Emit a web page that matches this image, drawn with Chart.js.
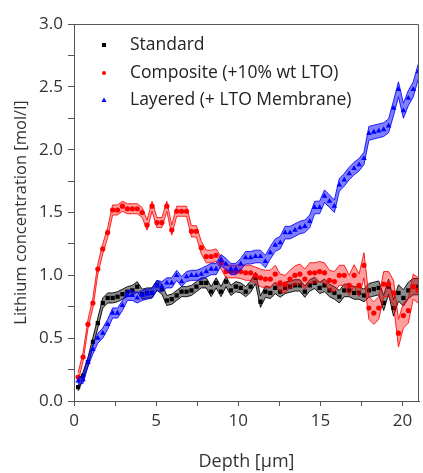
<!DOCTYPE html>
<html>
<head>
<meta charset="utf-8">
<script src="https://cdn.jsdelivr.net/npm/chart.js@4"></script>
<style>
  html, body { margin: 0; padding: 0; background: #fff; }
  #wrap { width: 423px; height: 473px; }
</style>
</head>
<body>
<div id="wrap"><canvas id="chart" width="423" height="473"></canvas></div>
<script>
const depth = [
  0.25, 0.55, 0.85, 1.15, 1.45, 1.75, 2.05, 2.35, 2.65, 2.95,
  3.25, 3.55, 3.85, 4.15, 4.45, 4.75, 5.05, 5.35, 5.65, 5.95,
  6.25, 6.55, 6.85, 7.15, 7.45, 7.75, 8.05, 8.35, 8.65, 8.95,
  9.25, 9.55, 9.85, 10.15, 10.45, 10.75, 11.05, 11.35, 11.65, 11.95,
  12.25, 12.55, 12.85, 13.15, 13.45, 13.75, 14.05, 14.35, 14.65, 14.95,
  15.25, 15.55, 15.85, 16.15, 16.45, 16.75, 17.05, 17.35, 17.65, 17.95,
  18.25, 18.55, 18.85, 19.15, 19.45, 19.75, 20.05, 20.35, 20.65, 20.95
]
const standard = [
  0.11, 0.20, 0.31, 0.47, 0.62, 0.78, 0.82, 0.82, 0.83, 0.85,
  0.87, 0.88, 0.91, 0.85, 0.86, 0.86, 0.92, 0.89, 0.80, 0.81,
  0.84, 0.87, 0.87, 0.88, 0.91, 0.94, 0.94, 0.87, 0.94, 0.87,
  0.95, 0.88, 0.91, 0.90, 0.87, 0.91, 0.98, 0.79, 0.87, 0.86,
  0.90, 0.87, 0.90, 0.91, 0.92, 0.92, 0.87, 0.92, 0.94, 0.90,
  0.92, 0.88, 0.86, 0.83, 0.88, 0.88, 0.86, 0.86, 0.84, 0.88,
  0.89, 0.90, 0.78, 0.91, 0.74, 0.86, 0.82, 0.88, 0.91, 0.91
]
const composite = [
  0.19, 0.35, 0.61, 0.78, 1.05, 1.21, 1.34, 1.52, 1.52, 1.55,
  1.53, 1.53, 1.53, 1.50, 1.40, 1.55, 1.42, 1.42, 1.55, 1.36,
  1.51, 1.51, 1.51, 1.35, 1.35, 1.22, 1.15, 1.15, 1.16, 1.10,
  1.03, 1.03, 1.03, 1.03, 1.02, 1.02, 1.00, 0.98, 0.97, 0.97,
  1.01, 0.94, 0.93, 0.97, 1.00, 1.01, 0.97, 1.02, 1.02, 1.03,
  1.02, 0.96, 0.95, 1.00, 1.00, 0.92, 1.00, 0.92, 1.08, 0.74,
  0.70, 0.74, 0.93, 0.93, 0.86, 0.54, 0.68, 0.72, 0.91, 0.88
]
const layered = [
  0.16, 0.17, 0.31, 0.41, 0.50, 0.54, 0.61, 0.70, 0.70, 0.76,
  0.84, 0.84, 0.82, 0.84, 0.85, 0.86, 0.92, 0.91, 0.94, 0.94,
  1.00, 0.95, 0.99, 1.00, 1.00, 1.01, 1.03, 1.05, 1.05, 1.12,
  1.09, 1.05, 1.05, 1.09, 1.14, 1.14, 1.15, 1.15, 1.11, 1.18,
  1.24, 1.26, 1.34, 1.34, 1.36, 1.38, 1.39, 1.43, 1.54, 1.54,
  1.63, 1.59, 1.55, 1.72, 1.76, 1.81, 1.85, 1.88, 1.93, 2.13,
  2.14, 2.15, 2.16, 2.19, 2.33, 2.48, 2.31, 2.41, 2.48, 2.62
]
const standardErr = [
  0.03, 0.03, 0.035, 0.035, 0.04, 0.04, 0.04, 0.04, 0.04, 0.04,
  0.04, 0.04, 0.04, 0.04, 0.04, 0.04, 0.04, 0.04, 0.04, 0.04,
  0.04, 0.04, 0.04, 0.04, 0.04, 0.04, 0.04, 0.04, 0.04, 0.04,
  0.04, 0.04, 0.04, 0.04, 0.04, 0.045, 0.045, 0.045, 0.045, 0.045,
  0.045, 0.045, 0.045, 0.045, 0.045, 0.045, 0.045, 0.045, 0.045, 0.045,
  0.05, 0.05, 0.05, 0.05, 0.05, 0.05, 0.05, 0.05, 0.05, 0.055,
  0.055, 0.055, 0.06, 0.06, 0.065, 0.065, 0.065, 0.065, 0.065, 0.065
]
const compositeErr = [
  0.035, 0.035, 0.035, 0.04, 0.04, 0.04, 0.04, 0.04, 0.04, 0.04,
  0.04, 0.04, 0.04, 0.04, 0.04, 0.04, 0.04, 0.04, 0.04, 0.04,
  0.04, 0.04, 0.04, 0.045, 0.045, 0.05, 0.05, 0.05, 0.05, 0.05,
  0.05, 0.05, 0.05, 0.055, 0.06, 0.06, 0.065, 0.07, 0.07, 0.07,
  0.07, 0.07, 0.07, 0.07, 0.075, 0.08, 0.08, 0.08, 0.08, 0.08,
  0.08, 0.08, 0.08, 0.08, 0.08, 0.08, 0.085, 0.09, 0.10, 0.09,
  0.09, 0.09, 0.10, 0.10, 0.10, 0.11, 0.10, 0.10, 0.10, 0.10
]
const layeredErr = [
  0.03, 0.03, 0.035, 0.035, 0.04, 0.04, 0.04, 0.04, 0.04, 0.04,
  0.04, 0.04, 0.04, 0.04, 0.04, 0.04, 0.04, 0.04, 0.04, 0.04,
  0.04, 0.04, 0.04, 0.04, 0.04, 0.045, 0.045, 0.045, 0.045, 0.045,
  0.045, 0.045, 0.045, 0.045, 0.05, 0.05, 0.05, 0.05, 0.05, 0.05,
  0.05, 0.05, 0.05, 0.05, 0.05, 0.05, 0.05, 0.05, 0.05, 0.05,
  0.05, 0.05, 0.05, 0.05, 0.05, 0.05, 0.05, 0.05, 0.05, 0.055,
  0.055, 0.055, 0.055, 0.055, 0.06, 0.06, 0.06, 0.06, 0.06, 0.06
]
const seriesNames = ['Standard', 'Composite (+10% wt LTO)', 'Layered (+ LTO Membrane)']
const xTitle = 'Depth [\u03bcm]'
const yTitle = 'Lithium concentration [mol/l]'

const FONT = "'Open Sans', 'DejaVu Sans', sans-serif"

const series = [
  { name: seriesNames[0], values: standard, err: standardErr, color: '#000000', edge: 'rgba(0,0,0,0.9)', fill: 'rgba(0,0,0,0.45)', style: 'rect', radius: 3, order: 5 },
  { name: seriesNames[1], values: composite, err: compositeErr, color: '#ff0000', edge: 'rgba(255,0,0,0.85)', fill: 'rgba(255,0,0,0.38)', style: 'circle', radius: 2.6, order: 3 },
  { name: seriesNames[2], values: layered, err: layeredErr, color: '#0000ff', edge: 'rgba(0,0,255,0.85)', fill: 'rgba(0,0,255,0.5)', style: 'triangle', radius: 3.2, order: 1 }
]

const datasets = []
series.forEach(s => {
  datasets.push({
    label: s.name + ' low',
    data: depth.map((x, i) => ({ x, y: s.values[i] - s.err[i] })),
    showLine: true, borderColor: s.edge, borderWidth: 1, pointRadius: 0, fill: false, tension: 0,
    order: s.order + 1
  })
  datasets.push({
    label: s.name + ' high',
    data: depth.map((x, i) => ({ x, y: s.values[i] + s.err[i] })),
    showLine: true, borderColor: s.edge, borderWidth: 1, pointRadius: 0, fill: '-1', backgroundColor: s.fill, tension: 0,
    order: s.order + 1
  })
  datasets.push({
    label: s.name,
    data: depth.map((x, i) => ({ x, y: s.values[i] })),
    showLine: false, pointStyle: s.style, pointRadius: s.radius,
    pointBackgroundColor: s.color, pointBorderColor: s.color, pointBorderWidth: 0,
    order: s.order
  })
})

const frameAndLegend = {
  id: 'frameAndLegend',
  afterDraw(chart) {
    const { ctx, chartArea: a } = chart
    ctx.save()
    ctx.strokeStyle = '#555'
    ctx.lineWidth = 1
    ctx.beginPath()
    ctx.moveTo(a.left, a.top + 0.5)
    ctx.lineTo(a.right - 0.5, a.top + 0.5)
    ctx.lineTo(a.right - 0.5, a.bottom)
    ctx.stroke()

    ctx.font = '17.5px ' + FONT
    ctx.textBaseline = 'middle'
    ctx.textAlign = 'left'
    const rows = [45, 73, 100]
    series.forEach((s, i) => {
      ctx.fillStyle = s.color
      const mx = 104, my = rows[i]
      ctx.beginPath()
      if (s.style === 'rect') ctx.rect(mx - 2, my - 2, 4, 4)
      else if (s.style === 'circle') ctx.arc(mx, my, 2, 0, Math.PI * 2)
      else { ctx.moveTo(mx, my - 2.5); ctx.lineTo(mx + 2.5, my + 2); ctx.lineTo(mx - 2.5, my + 2); ctx.closePath() }
      ctx.fill()
      ctx.fillStyle = '#222'
      ctx.fillText(s.name, 130, my)
    })
    ctx.restore()
  }
}

new Chart(document.getElementById('chart'), {
  type: 'scatter',
  data: { datasets },
  options: {
    responsive: false,
    devicePixelRatio: 1,
    animation: false,
    layout: { padding: { top: 24, right: 1, left: 0, bottom: 0 } },
    plugins: { legend: { display: false }, tooltip: { enabled: false } },
    scales: {
      x: {
        type: 'linear', min: 0, max: 21,
        afterFit: s => { s.height = 72 },
        ticks: {
          stepSize: 2.5, includeBounds: false, autoSkip: false, maxRotation: 0,
          color: '#333', font: { family: FONT, size: 17 }, padding: 5,
          callback: v => (v % 5 === 0 ? v : '')
        },
        grid: { drawOnChartArea: false, tickLength: 5, color: '#555' },
        border: { color: '#555', width: 1 },
        title: { display: true, text: xTitle, color: '#333', font: { family: FONT, size: 18 }, padding: { top: 0, bottom: 0 } }
      },
      y: {
        type: 'linear', min: 0, max: 3,
        afterFit: s => { s.width = 74 },
        ticks: {
          stepSize: 0.25, autoSkip: false,
          color: '#333', font: { family: FONT, size: 17 }, padding: 5,
          callback: v => (Math.abs(v * 2 - Math.round(v * 2)) < 1e-6 ? v.toFixed(1) : '')
        },
        grid: { drawOnChartArea: false, tickLength: 6, color: '#555' },
        border: { color: '#555', width: 1 },
        title: { display: true, text: yTitle, color: '#333', font: { family: FONT, size: 16.5 }, padding: { top: 11, bottom: 0 } }
      }
    }
  },
  plugins: [frameAndLegend]
})
</script>
</body>
</html>
